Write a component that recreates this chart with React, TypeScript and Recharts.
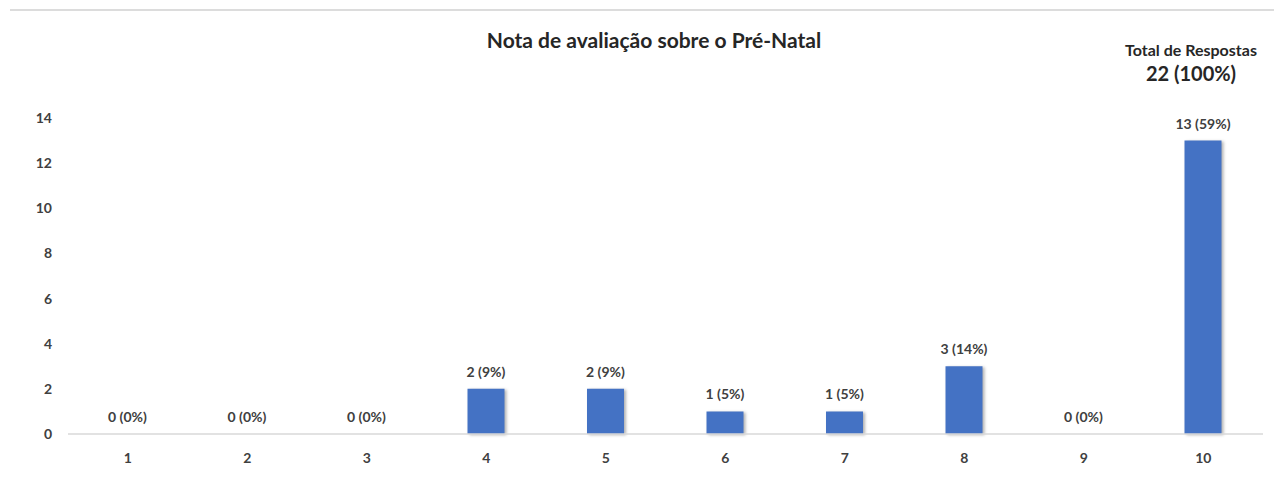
import React from 'react';
// npm
import { BarChart, Bar, XAxis, YAxis, LabelList, Rectangle } from 'recharts';

const notas = ['1', '2', '3', '4', '5', '6', '7', '8', '9', '10'];
const respostas = [0, 0, 0, 2, 2, 1, 1, 3, 0, 13];
const percentuais = [0, 0, 0, 9, 9, 5, 5, 14, 0, 59];
const yTicks = [0, 2, 4, 6, 8, 10, 12, 14];
const totalRespostas = 22;

const FONT = 'Lato, "Open Sans", sans-serif';
const TEXT = '#404040';

const ShadowBar = (props: any) => (
  <Rectangle {...props} style={{ filter: 'drop-shadow(2px 1px 1.5px rgba(0,0,0,0.3))' }} />
);

// rotulo acima da barra, sem quebra de linha
const Rotulo = (props: any) => {
  const { x, y, width, value } = props;
  return (
    <text
      x={Number(x) + Number(width) / 2}
      y={Number(y) - 12}
      textAnchor="middle"
      fontSize={14}
      fontWeight={700}
      fill={TEXT}
      fontFamily={FONT}
    >
      {value}
    </text>
  );
};

const App = () => {
  const data = notas.map((nota, i) => ({
    nota,
    valor: respostas[i],
    rotulo: `${respostas[i]} (${percentuais[i]}%)`,
  }));

  return (
    <div style={{ position: 'absolute', left: 0, top: 0, width: 1274, height: 485, background: '#fff', fontFamily: FONT }}>
      <div style={{ position: 'absolute', left: 10, right: 0, top: 9, borderTop: '2px solid #dcdcdc' }} />
      <div
        style={{
          position: 'absolute',
          left: 17,
          width: 1274,
          top: 27,
          textAlign: 'center',
          fontSize: 21,
          fontWeight: 700,
          color: '#262626',
        }}
      >
        Nota de avaliação sobre o Pré-Natal
      </div>
      <div style={{ position: 'absolute', left: 1091, width: 200, top: 40, textAlign: 'center', color: '#262626' }}>
        <div style={{ fontSize: 16, fontWeight: 700, lineHeight: '20px' }}>Total de Respostas</div>
        <div style={{ fontSize: 20, fontWeight: 700, lineHeight: '24px', marginTop: 1 }}>
          {totalRespostas} (100%)
        </div>
      </div>
      <BarChart
        width={1274}
        height={485}
        data={data}
        margin={{ top: 118, right: 11, bottom: 21, left: 0 }}
        style={{ position: 'absolute', left: 0, top: 0 }}
      >
        <YAxis
          width={68}
          domain={[0, 14]}
          ticks={yTicks}
          axisLine={false}
          tickLine={false}
          tickSize={0}
          tickMargin={16}
          tick={{ fontSize: 14, fontWeight: 700, fill: TEXT, fontFamily: FONT }}
        />
        <XAxis
          dataKey="nota"
          axisLine={{ stroke: '#d9d9d9', strokeWidth: 1.5 }}
          tickLine={false}
          tickSize={0}
          tickMargin={19}
          tick={{ fontSize: 14, fontWeight: 700, fill: TEXT, fontFamily: FONT }}
        />
        <Bar dataKey="valor" fill="#4472C4" barSize={37} shape={ShadowBar} isAnimationActive={false}>
          <LabelList dataKey="rotulo" content={Rotulo} />
        </Bar>
      </BarChart>
    </div>
  );
};

export default App;
